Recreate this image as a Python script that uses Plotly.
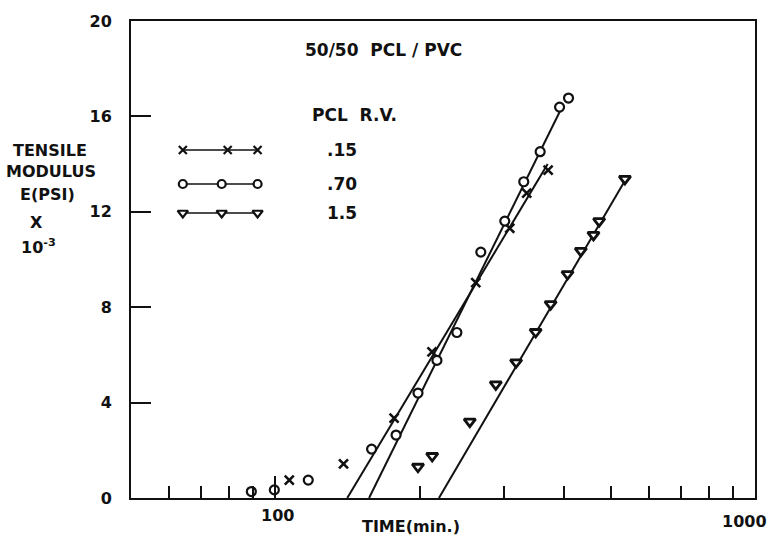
import plotly.graph_objects as go

# ---------------- data ----------------
# PCL R.V. = .15  (crosses)
x15_time = [106.9, 138.7, 176.8, 212.1, 261.7, 308.1, 334.2, 370.4]
x15_mod = [0.75, 1.43, 3.35, 6.13, 9.03, 11.31, 12.78, 13.75]
# PCL R.V. = .70  (circles)
o70_time = [89.1, 99.5, 117.1, 158.7, 178.5, 198.3, 217.2, 239.0, 268.1, 300.8, 329.5, 356.5, 391.3, 408.5]
o70_mod = [0.27, 0.34, 0.75, 2.05, 2.64, 4.40, 5.77, 6.94, 10.31, 11.61, 13.26, 14.52, 16.39, 16.77]
# PCL R.V. = 1.5  (triangles)
t15_time = [198.3, 212.3, 254.3, 288.1, 317.6, 348.9, 374.9, 406.6, 433.4, 460.5, 473.2, 535.5]
t15_mod = [1.31, 1.76, 3.20, 4.76, 5.69, 6.96, 8.13, 9.39, 10.36, 11.03, 11.61, 13.38]

# fitted straight lines (end points)
fit15_time = [141.2, 369.6]
fit15_mod = [0.0, 14.0]
fit70_time = [156.8, 395.1]
fit70_mod = [0.0, 16.35]
fit150_time = [219.3, 536.6]
fit150_mod = [0.0, 13.33]

y_ticks = [0, 4, 8, 12, 16, 20]
x_major = [100, 1000]
x_minor = [60, 70, 80, 90, 200, 300, 400, 500, 600, 700, 800, 900]
legend_labels = [".15", ".70", "1.5"]

# ---------------- layout geometry ----------------
W, H = 769, 539
L, R, T, B = 131, 12, 21, 41
PW, PH = W - L - R, H - T - B
FONT = "DejaVu Sans"
INK = "#111111"


def pxx(x):
    return (x - L) / PW


def pxy(y):
    return (H - B - y) / PH


fig = go.Figure()

# fitted lines
for xt, ym in [(fit15_time, fit15_mod), (fit70_time, fit70_mod), (fit150_time, fit150_mod)]:
    fig.add_trace(go.Scatter(x=xt, y=ym, mode="lines",
                             line=dict(color=INK, width=2), hoverinfo="skip"))

# data points
fig.add_trace(go.Scatter(x=x15_time, y=x15_mod, mode="markers",
                         marker=dict(symbol="x-thin", size=9, line=dict(color=INK, width=2.6))))
fig.add_trace(go.Scatter(x=o70_time, y=o70_mod, mode="markers",
                         marker=dict(symbol="circle", size=9, color="white",
                                     line=dict(color=INK, width=2.2))))
fig.add_trace(go.Scatter(x=t15_time, y=t15_mod, mode="markers",
                         marker=dict(symbol="triangle-down", size=10, color="white",
                                     line=dict(color=INK, width=2.8))))

# legend samples on an overlay axis (0..1 over the plot area)
rows = [(pxy(150), "x-thin", 8, pxx(228)), (pxy(184), "circle", 8, pxx(222)),
        (pxy(213), "triangle-down", 9, pxx(222))]
for (yy, sym, sz, xm) in rows:
    xs = [pxx(183), xm, pxx(258)]
    fig.add_trace(go.Scatter(x=xs, y=[yy] * 3, xaxis="x2", yaxis="y2",
                             mode="lines+markers",
                             line=dict(color=INK, width=1.6),
                             marker=dict(symbol=sym, size=sz, color="white",
                                         line=dict(color=INK, width=2.2)),
                             hoverinfo="skip"))

ann = []


def text(t, x, y, size=17, xanchor="center"):
    ann.append(dict(text=t, x=pxx(x), y=pxy(y), xref="paper", yref="paper",
                    xanchor=xanchor, yanchor="middle", showarrow=False,
                    font=dict(family=FONT, size=size, color=INK, weight="bold")))


text("50/50  PCL / PVC", 384, 50)
text("PCL  R.V.", 355, 115)
for lab, yy in zip(legend_labels, [150, 184, 213]):
    text(lab, 343, yy)
text("TENSILE", 50, 150, size=16)
text("MODULUS", 51, 171, size=16)
text("E(PSI)", 47, 194, size=16)
text("X", 36, 222, size=16)
text("10<sup>-3</sup>", 38, 246, size=16)
text("TIME(min.)", 412, 526, size=16)
text("100", 278, 515, size=16)
text("1000", 746, 521, size=16)

fig.update_layout(
    width=W, height=H,
    margin=dict(l=L, r=R, t=T, b=B),
    paper_bgcolor="white", plot_bgcolor="white",
    showlegend=False,
    annotations=ann,
    font=dict(family=FONT, size=16, color=INK, weight="bold"),
    xaxis=dict(type="log", range=[1.69897, 3.0], showgrid=False, zeroline=False,
               showline=True, mirror=True, linecolor=INK, linewidth=2,
               tickmode="array", tickvals=x_major, showticklabels=False,
               ticks="inside", ticklen=22, tickwidth=2, tickcolor=INK,
               minor=dict(tickmode="array", tickvals=x_minor, ticks="inside",
                          ticklen=12, tickwidth=2, tickcolor=INK, showgrid=False)),
    yaxis=dict(range=[0, 20], showgrid=False, zeroline=False,
               showline=True, mirror=True, linecolor=INK, linewidth=2,
               tickmode="array", tickvals=y_ticks,
               ticks="inside", ticklen=20, tickwidth=2, tickcolor=INK,
               ticklabelstandoff=14,
               tickfont=dict(family=FONT, size=16, color=INK, weight="bold")),
    xaxis2=dict(range=[0, 1], overlaying="x", visible=False, fixedrange=True),
    yaxis2=dict(range=[0, 1], overlaying="y", visible=False, fixedrange=True),
)

fig.write_html("out.html", config={"displayModeBar": False},
               post_script="document.body.style.margin='0';document.body.style.padding='0';")
